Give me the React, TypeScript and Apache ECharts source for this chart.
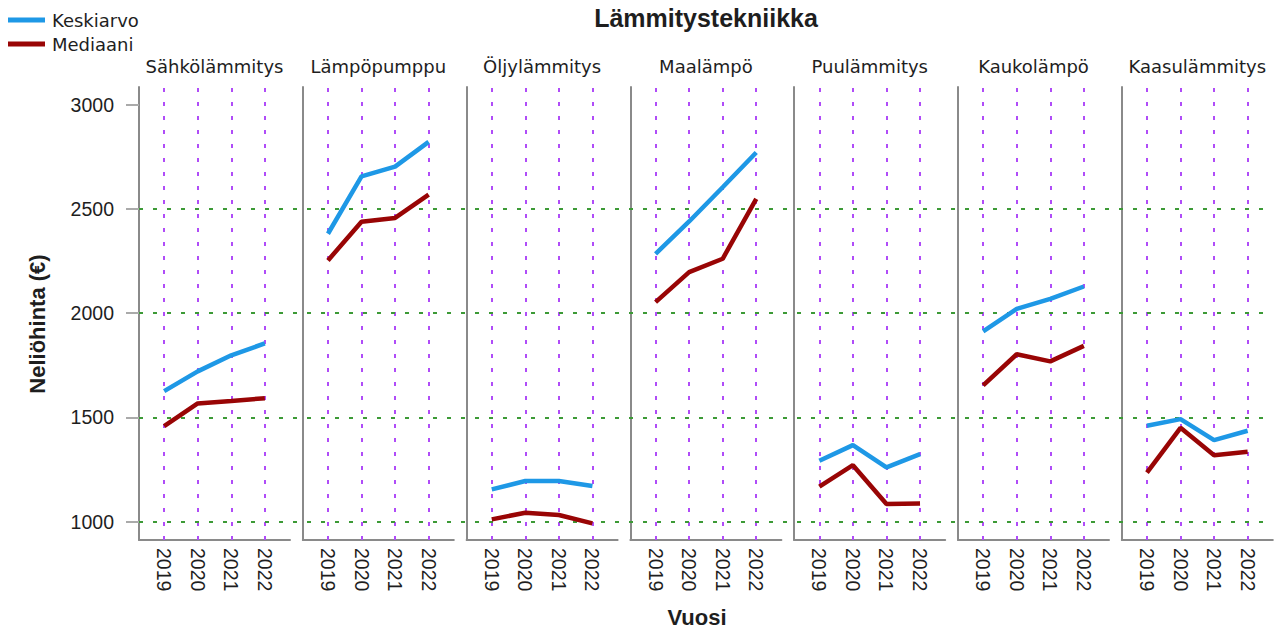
import React, { useEffect, useRef } from "react";
import * as echarts from "echarts";

const YEARS = [2019, 2020, 2021, 2022];
const CATEGORIES = [
  "Sähkölämmitys",
  "Lämpöpumppu",
  "Öljylämmitys",
  "Maalämpö",
  "Puulämmitys",
  "Kaukolämpö",
  "Kaasulämmitys",
];
const KESKIARVO = [
  [1626, 1721, 1798, 1855],
  [2381, 2656, 2703, 2822],
  [1155, 1195, 1195, 1171],
  [2285, 2440, 2604, 2771],
  [1292, 1367, 1260, 1324],
  [1913, 2021, 2069, 2128],
  [1460, 1492, 1391, 1436],
];
const MEDIAANI = [
  [1458, 1567, 1579, 1592],
  [2253, 2439, 2457, 2569],
  [1011, 1043, 1032, 992],
  [2053, 2197, 2261, 2548],
  [1168, 1271, 1085, 1087],
  [1654, 1803, 1769, 1843],
  [1235, 1450, 1319, 1335],
];
const Y_TICKS = [1000, 1500, 2000, 2500, 3000];
const REF_LINES = [1000, 1500, 2000, 2500];

const FONT = "Liberation Sans, Arial, sans-serif";
const WIDE_FONT = "DejaVu Sans, Verdana, sans-serif";
const BLUE = "#1e98e6";
const RED = "#990505";
const GREEN = "#3c9a36";
const PURPLE = "#b04cf8";
const AXIS_GRAY = "#8a8a8a";
const TEXT = "#1e1e1e";

const PANEL_LEFT0 = 139;
const PANEL_STEP = 163.8;
const PANEL_W = 151;
const TOP = 87;
const HEIGHT = 453;
const Y_MIN = 912;
const Y_MAX = 3085;
const X_MIN = 2018.25;
const X_MAX = 2022.75;

export default function App() {
  const ref = useRef<HTMLDivElement>(null);
  useEffect(() => {
    if (!ref.current) return;
    const chart = echarts.init(ref.current, null, { renderer: "svg" });
    const grids: any[] = [];
    const xAxes: any[] = [];
    const yAxes: any[] = [];
    const series: any[] = [];
    const titles: any[] = [
      {
        text: "Lämmitystekniikka",
        left: 706,
        top: 5,
        padding: 0,
        textAlign: "center",
        textStyle: { fontFamily: FONT, fontSize: 25, fontWeight: "bold", color: TEXT },
      },
      {
        text: "Vuosi",
        left: 697,
        top: 606,
        padding: 0,
        textAlign: "center",
        textStyle: { fontFamily: FONT, fontSize: 22, fontWeight: "bold", color: TEXT },
      },
    ];

    CATEGORIES.forEach((cat, i) => {
      const left = PANEL_LEFT0 + i * PANEL_STEP;
      grids.push({ left, top: TOP, width: PANEL_W, height: HEIGHT });
      titles.push({
        text: cat,
        left: left + PANEL_W / 2,
        top: 57,
        padding: 0,
        textAlign: "center",
        textStyle: { fontFamily: WIDE_FONT, fontSize: 18, fontWeight: "normal", color: TEXT },
      });
      xAxes.push({
        type: "value",
        gridIndex: i,
        min: X_MIN,
        max: X_MAX,
        axisLine: { show: true, lineStyle: { color: AXIS_GRAY, width: 2 } },
        axisTick: { show: false },
        splitLine: { show: false },
        axisLabel: {
          customValues: YEARS,
          rotate: -90,
          margin: 8,
          fontFamily: FONT,
          fontSize: 19.5,
          color: TEXT,
          formatter: (v: number) => String(v),
        },
      });
      yAxes.push({
        type: "value",
        gridIndex: i,
        min: Y_MIN,
        max: Y_MAX,
        axisLine: { show: true, lineStyle: { color: AXIS_GRAY, width: 2 } },
        axisTick: {
          show: i === 0,
          customValues: Y_TICKS,
          length: 13,
          lineStyle: { color: "#aaa", width: 2 },
        },
        splitLine: { show: false },
        axisLabel: {
          show: i === 0,
          customValues: Y_TICKS,
          margin: 25,
          fontFamily: FONT,
          fontSize: 19.5,
          color: TEXT,
          formatter: (v: number) => String(v),
        },
      });
      series.push({
        name: "Keskiarvo",
        type: "line",
        xAxisIndex: i,
        yAxisIndex: i,
        data: YEARS.map((y, k) => [y, KESKIARVO[i][k]]),
        showSymbol: false,
        symbol: "none",
        lineStyle: { color: BLUE, width: 4.5 },
        itemStyle: { color: BLUE },
        z: 5,
        markLine: {
          silent: true,
          symbol: ["none", "none"],
          label: { show: false },
          lineStyle: { color: PURPLE, type: [4, 10], width: 2 },
          data: YEARS.map((y) => ({ xAxis: y })),
          z: 2,
        },
      });
      series.push({
        name: "Mediaani",
        type: "line",
        xAxisIndex: i,
        yAxisIndex: i,
        data: YEARS.map((y, k) => [y, MEDIAANI[i][k]]),
        showSymbol: false,
        symbol: "none",
        lineStyle: { color: RED, width: 4.5 },
        itemStyle: { color: RED },
        z: 5,
      });
    });

    // full-width background grid for horizontal reference lines
    const bi = CATEGORIES.length;
    grids.push({
      left: PANEL_LEFT0,
      top: TOP,
      width: PANEL_STEP * (CATEGORIES.length - 1) + PANEL_W,
      height: HEIGHT,
    });
    xAxes.push({ type: "value", gridIndex: bi, min: 0, max: 1, show: false });
    yAxes.push({ type: "value", gridIndex: bi, min: Y_MIN, max: Y_MAX, show: false });
    series.push({
      type: "line",
      xAxisIndex: bi,
      yAxisIndex: bi,
      data: [],
      z: 1,
      markLine: {
        silent: true,
        symbol: ["none", "none"],
        label: { show: false },
        lineStyle: { color: GREEN, type: [4, 10], width: 2 },
        data: REF_LINES.map((v) => ({ yAxis: v })),
      },
    });

    chart.setOption({
      animation: false,
      backgroundColor: "#ffffff",
      title: titles,
      legend: {
        data: ["Keskiarvo", "Mediaani"],
        orient: "vertical",
        left: 8,
        top: 11,
        padding: 0,
        itemWidth: 37,
        itemHeight: 5,
        itemGap: 6,
        icon: "rect",
        textStyle: { fontFamily: WIDE_FONT, fontSize: 18, color: TEXT, padding: [0, 0, 0, 2] },
        selectedMode: false,
      },
      graphic: [
        {
          type: "text",
          x: 37,
          y: 324,
          rotation: Math.PI / 2,
          style: {
            text: "Neliöhinta (€)",
            fontFamily: FONT,
            fontSize: 22,
            fontWeight: "bold",
            fill: TEXT,
            align: "center",
            verticalAlign: "middle",
          },
        },
      ],
      grid: grids,
      xAxis: xAxes,
      yAxis: yAxes,
      series,
    });
    return () => chart.dispose();
  }, []);
  return (
    <div
      ref={ref}
      style={{ position: "fixed", left: 0, top: 0, width: 1277, height: 629, background: "#fff" }}
    />
  );
}
